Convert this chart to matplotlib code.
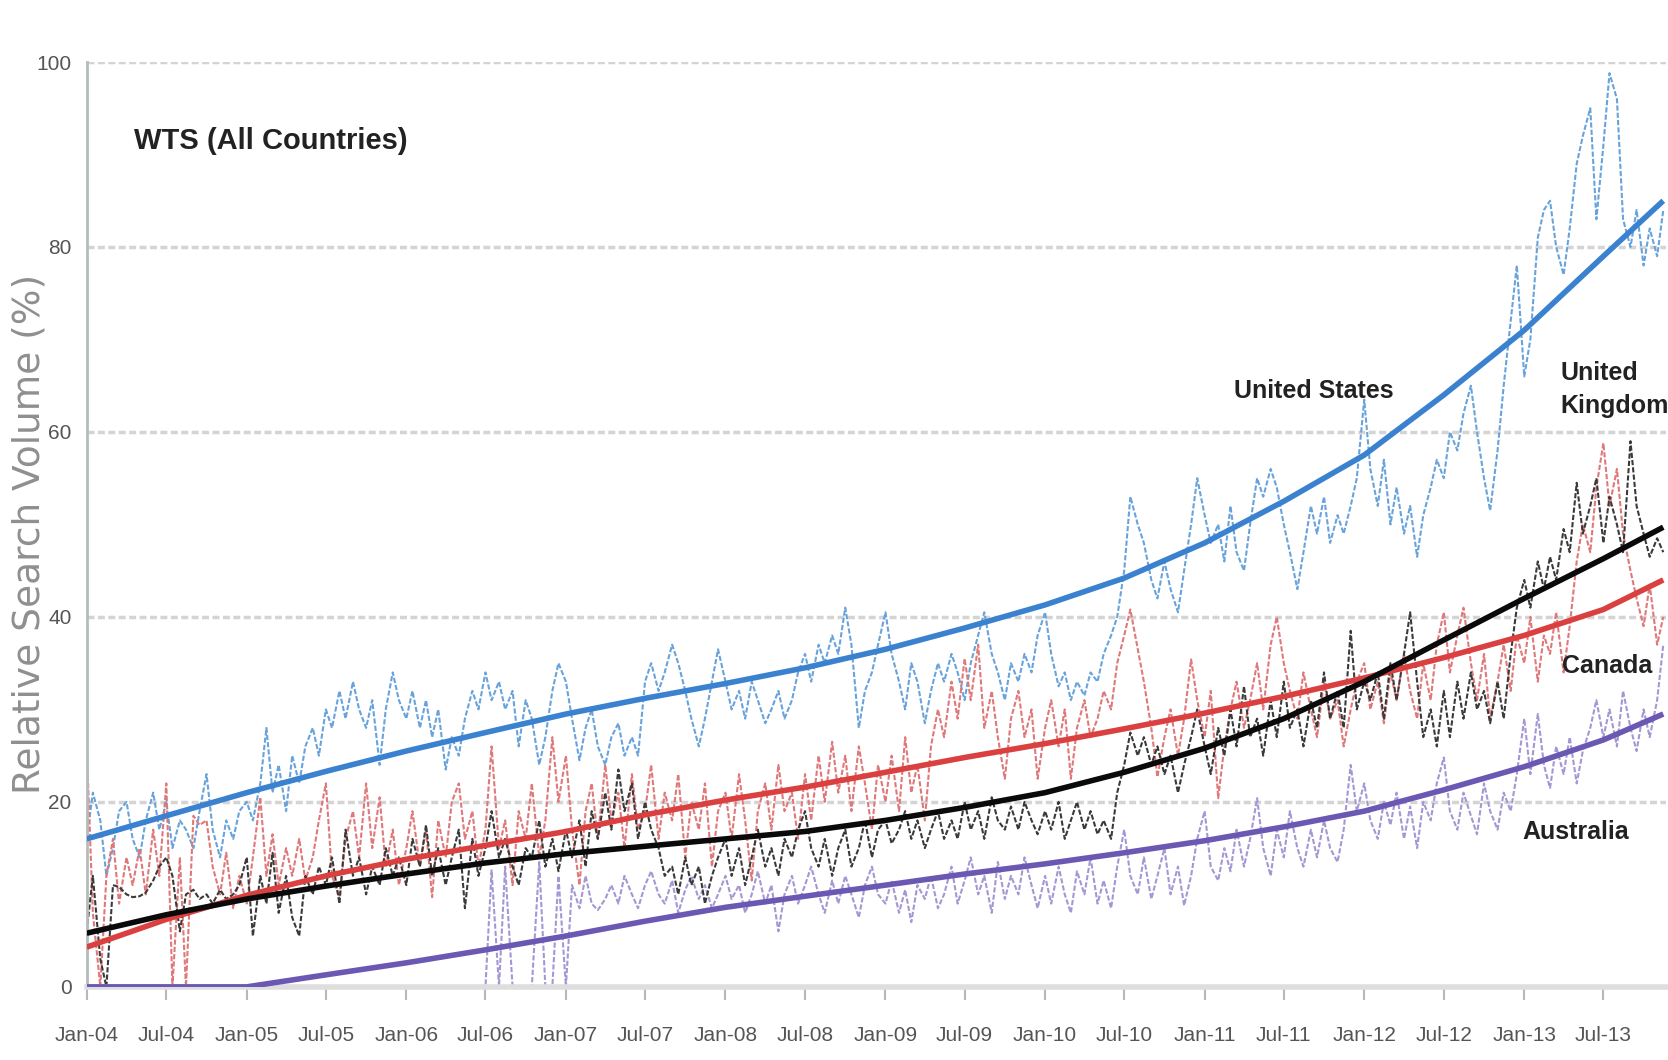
import numpy as np
import pandas as pd
import matplotlib
matplotlib.use("Agg")
import matplotlib.pyplot as plt
import matplotlib.dates as mdates

# semi-monthly samples, Jan 2004 - Nov 2013
dates = pd.date_range("2004-01-01", "2013-11-15", freq="SMS")

us_values = [
    16, 21, 18, 12, 15, 19, 20, 16, 14, 18, 21, 17, 20, 15, 18, 17, 15, 19, 23, 17, 14, 18, 16, 19,  # 2004
    20, 18, 22, 28, 21, 24, 19, 25, 22, 26, 28, 25, 30, 28, 32, 29, 33, 30, 28, 31, 24, 30, 34, 31,  # 2005
    29, 32, 28, 31, 27, 30, 23.5, 27, 25, 29, 32, 30, 34, 31, 33, 30, 32, 26, 31, 29, 24, 27, 32, 35,  # 2006
    33, 29, 24.5, 28, 30, 26, 24, 27, 28.5, 25, 27, 25, 33, 35, 32, 34, 37, 35, 32, 29, 26, 29, 33, 36.5,  # 2007
    33, 30, 32, 29, 33, 31, 28.5, 30, 32, 29, 31, 34, 36, 33, 37, 35, 38, 36, 41, 37, 28, 32, 34, 37,  # 2008
    40.5, 36, 33, 30, 35, 33, 28.5, 32, 35, 33, 36, 34, 31, 35, 38, 40.5, 36, 34, 31, 35, 33, 36, 34, 38,  # 2009
    40.5, 36, 32.5, 34, 31, 33, 31.5, 34, 33, 36, 38, 40, 45, 53, 50, 48, 44, 42, 46, 43, 40.5, 45, 50, 55,  # 2010
    51, 48, 50, 46, 52, 47, 45, 50, 55, 53, 56, 54, 50, 47, 43, 47, 52, 49, 53, 48, 51, 49, 52, 55,  # 2011
    63.5, 56, 52, 57, 50, 54, 49, 52, 46.5, 51, 54, 57, 55, 60, 58, 62, 65, 60, 55, 51.5, 58, 65, 72, 78,  # 2012
    66, 70, 81, 84, 85, 80, 77, 82, 89, 92, 95, 83, 91, 98.8, 96, 83, 80, 84, 78, 82, 79, 84,  # 2013
]

uk_values = [
    6, 12, 3, 0, 11, 10.8, 10, 9.7, 9.8, 10.2, 11.5, 13, 14, 12, 6, 10, 10.5, 9.5, 10, 9, 10.5, 9.5, 10, 11,
    14, 5.5, 12, 9, 14.5, 8, 12, 7.5, 5.5, 12, 10, 13, 11, 14, 9, 17, 12, 14, 10, 13, 11, 15, 12, 14,
    11, 16, 13, 17.5, 12, 15, 11, 14, 17, 8.5, 16, 12, 15, 19, 14, 16, 13, 11, 15, 14, 18, 13, 16, 12.5,
    17, 14, 18, 13, 19, 16, 21, 17, 23.5, 19, 22, 16, 20, 17, 15, 12, 13, 10, 14, 11, 13, 9, 12, 14,
    16, 12, 15, 11, 14, 17, 13, 15, 12, 16, 14, 17, 19, 15, 13, 16, 12, 15, 17, 13, 15, 18, 14, 17,
    18, 15.5, 17, 19, 16, 18, 15, 17, 19, 16, 18, 16, 20, 17, 19, 16, 20.5, 18, 17, 19.5, 17, 20, 18, 16.5,
    19, 17, 20, 16, 18, 20, 17, 19, 16.5, 18, 16, 21, 24, 27.5, 25, 27, 24, 26, 23, 25, 21, 24, 27, 30,
    26, 23, 28, 25, 30, 26, 32.5, 27, 29, 25, 31, 27, 33, 28, 30, 26, 31, 28, 34, 29, 32, 28, 38.5, 30,
    33, 31, 34, 29, 35, 31, 36, 40.5, 33, 27, 30, 26, 32, 27, 33, 29, 34, 30, 32, 28.5, 33, 29, 36, 41,
    44, 41, 46, 43, 46.5, 44, 49.5, 47, 54.5, 49, 52, 55, 48, 53, 50, 47, 59, 52, 49, 46.5, 48.5, 47,
]

ca_values = [
    26, 8, 0, 12, 16, 9, 14, 11, 15, 10, 17, 12, 22, 0, 14, 0, 18.5, 17.5, 18, 13, 10, 14.5, 8.5, 12,
    9, 14, 20.5, 12, 16.5, 11, 15, 12, 16, 11.5, 14, 18, 22, 12, 9.7, 16, 19, 14, 22, 15, 20.5, 13, 17, 11,
    15, 19, 13, 17, 9.7, 18, 14, 20, 22, 16, 19, 13, 17, 26, 15, 18, 11, 19, 16, 22, 14, 18, 27, 20,
    25, 17, 11, 19, 22, 16, 24, 18, 21, 15, 23, 17, 19, 24, 16, 21, 18, 23, 14, 20, 17, 22, 13, 19,
    21, 16, 23, 18, 11.5, 19, 22, 17, 24, 19, 21, 16, 23, 18, 25, 20, 26.5, 21, 25, 19, 26, 22, 17, 24,
    20, 25, 19, 27, 21, 24, 18, 26, 30, 27, 33, 29, 35.5, 31, 37, 28, 32, 27, 22.5, 29, 32, 27, 30, 22.5,
    28, 31, 26, 30, 22.5, 28, 31, 27, 29, 32, 30, 35, 38, 40.8, 36.5, 33, 28, 22.7, 27, 30, 25, 29, 35.4, 31,
    27, 32, 20.4, 26, 30, 33, 28, 31, 35, 30, 37, 40, 35, 32, 29, 34, 30, 27, 33, 29, 31, 26, 30, 33,
    35, 30, 33, 28.5, 34, 31, 36, 32, 29, 35, 31, 37, 40.5, 34, 38, 41, 35, 31, 36, 29, 33, 37, 32, 38,
    35, 40, 33, 38, 36, 40.5, 34, 39, 46, 50, 47, 54, 58.8, 52, 56, 49, 45, 42, 39, 43.5, 37, 40,
]

au_values = [
    0, 0, 0, 0, 0, 0, 0, 0, 0, 0, 0, 0, 0, 0, 0, 0, 0, 0, 0, 0, 0, 0, 0, 0,
    0, 0, 0, 0, 0, 0, 0, 0, 0, 0, 0, 0, 0, 0, 0, 0, 0, 0, 0, 0, 0, 0, 0, 0,
    0, 0, 0, 0, 0, 0, 0, 0, 0, 0, 0, 0, 0, 12.6, 0, 13, 0, 0, 0, 0, 13.5, 0, 0, 12,
    0, 11, 8.5, 12, 9, 8.3, 9.5, 11, 9, 12, 10, 8.5, 11, 12.5, 10, 9, 11.5, 8, 10.5, 12, 9.5, 11, 8.5, 10,
    12, 9.5, 11, 8, 10, 12.5, 9, 11, 6, 10, 12, 9, 11, 13, 10, 8, 11.5, 9, 12, 10, 7.5, 11, 13, 10,
    9, 11.5, 8, 10.5, 7, 11, 9.5, 12, 8.5, 10, 13, 9, 11.5, 14, 10, 12, 8, 13.5, 9.5, 12, 10, 14, 11, 8.5,
    12, 9, 13, 10, 8, 12.5, 10, 14, 9, 11.5, 8.5, 13, 17, 12, 10, 14, 9.5, 12, 15, 10, 13, 8.8, 12, 16,
    19, 13, 11.5, 15, 12.5, 17, 13, 16, 20.4, 15, 12, 17, 14, 19, 15, 13, 17, 14, 18, 15, 13.5, 17, 24, 19,
    22, 18, 16, 20, 17.5, 21, 16, 19.5, 15, 20, 18, 22, 24.8, 19, 17, 21, 18.5, 16.5, 22, 19, 17, 21, 19, 23,
    29, 23, 29.5, 24, 21.5, 26, 23, 27, 22, 25.5, 28, 31, 27, 30, 26, 32, 28, 25.5, 30, 27, 31, 37,
]

# smooth trend lines, read at each half-year tick plus the last week
trend_dates = pd.to_datetime(
    [f"{y}-{m:02d}-01" for y in range(2004, 2014) for m in (1, 7)] + ["2013-11-15"])
us_trend = [16, 18.5, 21, 23.3, 25.5, 27.5, 29.5, 31.2, 32.8, 34.5, 36.5, 38.8, 41.3, 44.2, 48, 52.5, 57.5, 64, 71, 79, 85]
uk_trend = [5.8, 7.8, 9.5, 10.9, 12.2, 13.4, 14.4, 15.2, 16.0, 16.8, 18, 19.4, 21, 23.2, 25.8, 29, 33, 37.5, 42, 46.3, 49.7]
ca_trend = [4.3, 7.3, 9.9, 12, 13.8, 15.3, 16.8, 18.6, 20.2, 21.6, 23.2, 24.8, 26.3, 27.9, 29.6, 31.4, 33.4, 35.6, 38, 40.8, 44]
au_trend = [0, 0, 0, 1.3, 2.6, 4.0, 5.5, 7.1, 8.6, 9.8, 11, 12.2, 13.3, 14.5, 15.8, 17.3, 19, 21.3, 23.8, 26.7, 29.5]

sans = ["Liberation Sans", "DejaVu Sans"]

fig = plt.figure(figsize=(16.68, 10.6), dpi=100)
ax = fig.add_axes([0.052, 0.069, 0.947, 0.8725])

# raw series (thin, dashed)
ax.plot(dates, us_values, color="#69a3dc", lw=1.5, ls=(0, (2.5, 1)), zorder=2)
ax.plot(dates, ca_values, color="#e0787a", lw=1.5, ls=(0, (2.5, 1)), zorder=2)
ax.plot(dates, au_values, color="#a597d4", lw=1.5, ls=(0, (2.5, 1)), zorder=2)
ax.plot(dates, uk_values, color="#3a3a3a", lw=1.5, ls=(0, (2.5, 1)), zorder=2)

# trends
ax.plot(trend_dates, au_trend, color="#6b58b2", lw=4, zorder=3, solid_capstyle="butt")
ax.plot(trend_dates, ca_trend, color="#d9403f", lw=4, zorder=3, solid_capstyle="butt")
ax.plot(trend_dates, uk_trend, color="#0a0a0a", lw=4, zorder=3, solid_capstyle="butt")
ax.plot(trend_dates, us_trend, color="#3a82cf", lw=4, zorder=3, solid_capstyle="butt")

ax.set_xlim(pd.Timestamp("2004-01-01"), pd.Timestamp("2013-11-22"))
ax.set_ylim(0, 100)

ax.xaxis.set_major_locator(mdates.MonthLocator(bymonth=[1, 7]))
ax.xaxis.set_major_formatter(mdates.DateFormatter("%b-%y"))
ax.set_yticks([0, 20, 40, 60, 80, 100])

ax.grid(axis="y", color="#d4d4d4", lw=2.5, ls=(0, (2, 1)), zorder=0)
ax.set_axisbelow(True)

for s in ("top", "right"):
    ax.spines[s].set_visible(False)
ax.spines["left"].set_color("#b4bcbc")
ax.spines["left"].set_linewidth(2)
ax.spines["bottom"].set_color("#dedede")
ax.spines["bottom"].set_linewidth(4)

ax.tick_params(axis="x", direction="out", length=9, width=1.5, color="#b8b8b8",
               labelsize=15, labelcolor="#555555", pad=19)
ax.tick_params(axis="y", length=0, labelsize=15, labelcolor="#555555", pad=11)
for lab in ax.get_xticklabels() + ax.get_yticklabels():
    lab.set_family(sans)

ax.set_ylabel("Relative Search Volume (%)", fontsize=27, color="#8f8f8f",
              family="DejaVu Sans")
ax.yaxis.set_label_coords(-0.025, 0.49)

ax.text(0.03, 91.5, "WTS (All Countries)", transform=ax.get_yaxis_transform(),
        fontsize=21, fontweight="bold", family=sans, color="#222222", va="center")

lab_kw = dict(fontsize=18, fontweight="bold", family=sans, color="#222222",
              va="center", transform=ax.get_yaxis_transform())
ax.text(0.726, 64.4, "United States", **lab_kw)
ax.text(0.933, 64.6, "United\nKingdom", linespacing=1.45, **lab_kw)
ax.text(0.934, 34.7, "Canada", **lab_kw)
ax.text(0.909, 16.7, "Australia", **lab_kw)

fig.savefig("out.png", dpi=100)
